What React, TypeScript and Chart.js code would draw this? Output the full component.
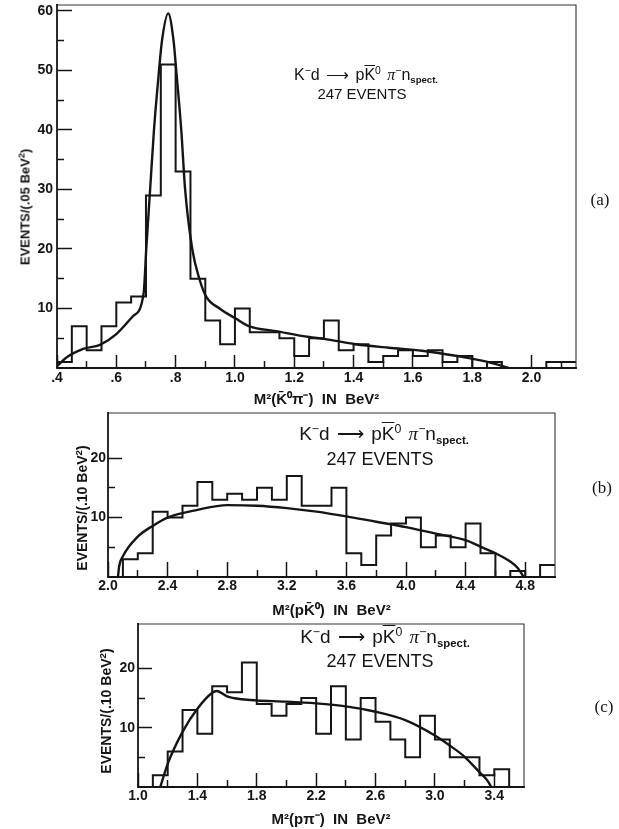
import React, { useEffect, useRef } from "react";
import { Chart, registerables } from "chart.js";

Chart.register(...registerables);

// ---------------- Panel (a): M^2(K0bar pi-) ----------------
const binLowA = 0.4;
const binWidthA = 0.05;
const countsA = [1, 7, 3, 7, 11, 12, 29, 51, 33, 15, 8, 4, 10, 6, 6, 5, 2, 5, 8, 3, 4, 1, 2, 3, 2, 3, 1, 2, 0, 1, 0, 0, 0, 1, 1];
const curveAX = [0.4, 0.433, 0.488, 0.545, 0.6, 0.656, 0.692, 0.701, 0.714, 0.727, 0.744, 0.754, 0.775, 0.793, 0.802, 0.819, 0.832, 0.856, 0.88, 0.903, 0.948, 1.0, 1.049, 1.138, 1.25, 1.3, 1.407, 1.519, 1.631, 1.744, 1.855, 1.923];
const curveAY = [0.3, 1.8, 3.2, 3.9, 5.7, 8.7, 12.5, 20, 30, 40, 50, 55, 59.6, 55, 50, 40, 30, 20, 15, 12, 10, 8.4, 7, 6.2, 5.2, 4.9, 4.0, 3.4, 2.9, 2.05, 1.0, 0];
const xTicksA = [0.4, 0.6, 0.8, 1.0, 1.2, 1.4, 1.6, 1.8, 2.0];
const xLabelsA = [".4", ".6", ".8", "1.0", "1.2", "1.4", "1.6", "1.8", "2.0"];
const xMinorA = [0.5, 0.7, 0.9, 1.1, 1.3, 1.5, 1.7, 1.9, 2.1];
const yTicksA = [10, 20, 30, 40, 50, 60];
const yLabelsA = ["10", "20", "30", "40", "50", "60"];
const yMinorA = [5, 15, 25, 35, 45, 55];

// ---------------- Panel (b): M^2(p K0bar) ----------------
const binLowB = 2.0;
const binWidthB = 0.1;
const countsB = [0, 3, 4, 11, 10, 12, 16, 13, 14, 13, 15, 13, 17, 12, 12, 15, 4, 2, 7, 9, 10, 5, 7, 5, 9, 4, 0, 1, 0, 2];
const curveBX = [2.067, 2.075, 2.1, 2.2, 2.3, 2.4, 2.6, 2.8, 3.0, 3.2, 3.4, 3.6, 3.8, 4.0, 4.2, 4.4, 4.5, 4.6, 4.7, 4.75, 4.79];
const curveBY = [0, 1.8, 3.5, 6.8, 8.6, 10, 11.3, 12.1, 12, 11.6, 11.0, 10.2, 9.3, 8.4, 7.3, 6.2, 5.1, 4.0, 2.6, 1.5, 0];
const xTicksB = [2.0, 2.4, 2.8, 3.2, 3.6, 4.0, 4.4, 4.8];
const xLabelsB = ["2.0", "2.4", "2.8", "3.2", "3.6", "4.0", "4.4", "4.8"];
const xMinorB = [2.2, 2.6, 3.0, 3.4, 3.8, 4.2, 4.6];
const yTicksB = [10, 20];
const yLabelsB = ["10", "20"];
const yMinorB = [5, 15];

// ---------------- Panel (c): M^2(p pi-) ----------------
const binLowC = 1.0;
const binWidthC = 0.1;
const countsC = [0, 2, 6, 13, 9, 17, 16, 21, 14, 12, 14, 15, 9, 17, 8, 15, 11, 8, 5, 12, 8, 5, 5, 2, 3, 0];
const curveCX = [1.15, 1.2, 1.3, 1.4, 1.5, 1.53, 1.6, 1.7, 1.8, 2.0, 2.2, 2.4, 2.6, 2.8, 3.0, 3.1, 3.2, 3.3, 3.35, 3.38];
const curveCY = [0, 3.9, 9.3, 13.2, 15.9, 16.2, 15.3, 14.8, 14.6, 14.4, 14.1, 13.6, 12.7, 11.3, 8.7, 7.0, 5.1, 2.5, 1.2, 0];
const xTicksC = [1.0, 1.4, 1.8, 2.2, 2.6, 3.0, 3.4];
const xLabelsC = ["1.0", "1.4", "1.8", "2.2", "2.6", "3.0", "3.4"];
const xMinorC = [1.2, 1.6, 2.0, 2.4, 2.8, 3.2];
const yTicksC = [10, 20];
const yLabelsC = ["10", "20"];
const yMinorC = [5, 15];

const W = 619;
const H = 829;
const SANS = "'Liberation Sans', Arial, Helvetica, sans-serif";
const SERIF = "'Liberation Serif', 'Times New Roman', serif";
const INK = "#151515";

type Panel = {
  plot: { l: number; r: number; t: number; b: number };
  xMin: number; xMax: number; yMax: number;
  binLow: number; binWidth: number; counts: number[];
  curveX: number[]; curveY: number[];
  xTicks: number[]; xLabels: string[]; xMinor: number[];
  yTicks: number[]; yLabels: string[]; yMinor: number[];
  xTitle: string;
  xTickLen: number; yTickLen: number;
  xLabelPad: number; yLabelPad: number;
  xTitleY: number;
};

const panels: Panel[] = [
  {
    plot: { l: 57, r: 576, t: 5, b: 368 },
    xMin: 0.4, xMax: 2.15, yMax: 61,
    binLow: binLowA, binWidth: binWidthA, counts: countsA,
    curveX: curveAX, curveY: curveAY,
    xTicks: xTicksA, xLabels: xLabelsA, xMinor: xMinorA,
    yTicks: yTicksA, yLabels: yLabelsA, yMinor: yMinorA,
    xTitle: "M²(K̄⁰π⁻)  IN  BeV²",
    xTickLen: 13, yTickLen: 15, xLabelPad: 15, yLabelPad: 19,
    xTitleY: 400,
  },
  {
    plot: { l: 108, r: 555, t: 413, b: 577 },
    xMin: 2.0, xMax: 5.0, yMax: 27.6,
    binLow: binLowB, binWidth: binWidthB, counts: countsB,
    curveX: curveBX, curveY: curveBY,
    xTicks: xTicksB, xLabels: xLabelsB, xMinor: xMinorB,
    yTicks: yTicksB, yLabels: yLabelsB, yMinor: yMinorB,
    xTitle: "M²(pK̄⁰)  IN  BeV²",
    xTickLen: 15, yTickLen: 14, xLabelPad: 16, yLabelPad: 16,
    xTitleY: 611,
  },
  {
    plot: { l: 138, r: 524, t: 624, b: 787 },
    xMin: 1.0, xMax: 3.6, yMax: 27.5,
    binLow: binLowC, binWidth: binWidthC, counts: countsC,
    curveX: curveCX, curveY: curveCY,
    xTicks: xTicksC, xLabels: xLabelsC, xMinor: xMinorC,
    yTicks: yTicksC, yLabels: yLabelsC, yMinor: yMinorC,
    xTitle: "M²(pπ⁻)  IN  BeV²",
    xTickLen: 14, yTickLen: 14, xLabelPad: 15, yLabelPad: 17,
    xTitleY: 820,
  },
];

function histPoints(low: number, w: number, counts: number[]) {
  const pts = counts.map((c, i) => ({ x: +(low + i * w).toFixed(4), y: c }));
  pts.push({ x: +(low + counts.length * w).toFixed(4), y: counts[counts.length - 1] });
  return pts;
}

// frame: heavier left/bottom axes, lighter top/right edges (as in the print)
const framePlugin = {
  id: "frame",
  afterDatasetsDraw(chart: any) {
    const { ctx, chartArea } = chart;
    const { left, top, right, bottom } = chartArea;
    ctx.save();
    ctx.lineCap = "square";
    ctx.strokeStyle = "#333";
    ctx.lineWidth = 1.1;
    ctx.beginPath();
    ctx.moveTo(left, top);
    ctx.lineTo(right, top);
    ctx.lineTo(right, bottom);
    ctx.stroke();
    ctx.strokeStyle = INK;
    ctx.lineWidth = 1.8;
    ctx.beginPath();
    ctx.moveTo(left, top);
    ctx.lineTo(left, bottom);
    ctx.lineTo(right, bottom);
    ctx.stroke();
    ctx.restore();
  },
};

function zeroPad(s: any) {
  s.paddingTop = 0;
  s.paddingBottom = 0;
  s.paddingLeft = 0;
  s.paddingRight = 0;
}

function makeConfig(p: Panel): any {
  const Hx = p.xTitleY - p.plot.b + 9;
  const tickFont = { family: SANS, size: 14, weight: "bold" as const };
  const labelOf = (vals: number[], labels: string[]) => (v: any) => {
    const i = vals.findIndex((t) => Math.abs(t - v) < 1e-6);
    return i >= 0 ? labels[i] : "";
  };
  return {
    type: "line",
    data: {
      datasets: [
        {
          label: "events",
          data: histPoints(p.binLow, p.binWidth, p.counts),
          stepped: "before",
          borderColor: INK,
          borderWidth: 2,
          pointRadius: 0,
          fill: false,
        },
        {
          label: "fit",
          data: p.curveX.map((x, i) => ({ x, y: p.curveY[i] })),
          borderColor: INK,
          borderWidth: 2.4,
          pointRadius: 0,
          fill: false,
          cubicInterpolationMode: "monotone",
        },
      ],
    },
    options: {
      animation: false,
      responsive: false,
      maintainAspectRatio: false,
      events: [],
      layout: { padding: { left: 0, top: p.plot.t, right: W - p.plot.r, bottom: H - p.plot.b - Hx } },
      plugins: { legend: { display: false }, tooltip: { enabled: false } },
      scales: {
        x: {
          type: "linear",
          position: "bottom",
          weight: 1,
          min: p.xMin,
          max: p.xMax,
          afterBuildTicks: (s: any) => { s.ticks = p.xTicks.map((v) => ({ value: v })); },
          afterFit: (s: any) => { s.height = Hx; zeroPad(s); },
          border: { display: false },
          grid: { display: true, drawOnChartArea: false, drawTicks: true, tickLength: -p.xTickLen, tickWidth: 1.5, tickColor: INK },
          ticks: { autoSkip: false, maxRotation: 0, minRotation: 0, padding: p.xLabelPad, color: INK, font: tickFont, callback: labelOf(p.xTicks, p.xLabels) },
          title: { display: true, text: p.xTitle, color: INK, font: { family: SANS, size: 15, weight: "bold" }, padding: { top: 0, bottom: 0 } },
        },
        xMinor: {
          type: "linear",
          position: "bottom",
          weight: 0,
          min: p.xMin,
          max: p.xMax,
          afterBuildTicks: (s: any) => { s.ticks = p.xMinor.map((v) => ({ value: v })); },
          afterFit: (s: any) => { s.height = 0; zeroPad(s); },
          border: { display: false },
          grid: { display: true, drawOnChartArea: false, drawTicks: true, tickLength: -7, tickWidth: 1.5, tickColor: INK },
          ticks: { display: false, autoSkip: false },
        },
        y: {
          type: "linear",
          position: "left",
          weight: 1,
          min: 0,
          max: p.yMax,
          afterBuildTicks: (s: any) => { s.ticks = p.yTicks.map((v) => ({ value: v })); },
          afterFit: (s: any) => { s.width = p.plot.l; zeroPad(s); },
          border: { display: false },
          grid: { display: true, drawOnChartArea: false, drawTicks: true, tickLength: -p.yTickLen, tickWidth: 1.5, tickColor: INK },
          ticks: { autoSkip: false, padding: p.yLabelPad, color: INK, font: tickFont, callback: labelOf(p.yTicks, p.yLabels) },
        },
        yMinor: {
          type: "linear",
          position: "left",
          weight: 0,
          min: 0,
          max: p.yMax,
          afterBuildTicks: (s: any) => { s.ticks = p.yMinor.map((v) => ({ value: v })); },
          afterFit: (s: any) => { s.width = 0; zeroPad(s); },
          border: { display: false },
          grid: { display: true, drawOnChartArea: false, drawTicks: true, tickLength: -7, tickWidth: 1.5, tickColor: INK },
          ticks: { display: false, autoSkip: false },
        },
      },
    },
    plugins: [framePlugin],
  };
}

const supStyle: React.CSSProperties = { fontSize: "0.65em", verticalAlign: "0.55em", lineHeight: 0 };

function Reaction({ cx, top, size }: { cx: number; top: number; size: number }) {
  return (
    <div style={{ position: "absolute", left: cx - 160, width: 320, top, textAlign: "center", fontFamily: SANS, fontSize: size, lineHeight: 1, whiteSpace: "nowrap", color: INK, wordSpacing: 2 }}>
      K<span style={supStyle}>−</span>d <span>⟶</span> p<span style={{ textDecoration: "overline" }}>K</span>
      <span style={supStyle}>0</span> <span style={{ fontFamily: SERIF, fontStyle: "italic" }}>π</span>
      <span style={supStyle}>−</span>n
      <span style={{ fontSize: "0.6em", fontWeight: "bold", verticalAlign: "-0.35em", lineHeight: 0 }}>spect.</span>
    </div>
  );
}

function Events({ cx, top, size }: { cx: number; top: number; size: number }) {
  return (
    <div style={{ position: "absolute", left: cx - 160, width: 320, top, textAlign: "center", fontFamily: SANS, fontSize: size, lineHeight: 1, whiteSpace: "nowrap", color: INK }}>
      247 EVENTS
    </div>
  );
}

function YTitle({ cx, cy, size, text }: { cx: number; cy: number; size: number; text: string }) {
  return (
    <div style={{ position: "absolute", left: cx, top: cy, transform: "translate(-50%, -50%) rotate(-90deg)", fontFamily: SANS, fontWeight: "bold", fontSize: size, lineHeight: 1, whiteSpace: "nowrap", color: INK }}>
      {text}
      <span style={{ fontSize: "0.7em", verticalAlign: "0.5em", lineHeight: 0 }}>2</span>)
    </div>
  );
}

function Tag({ cx, cy, text }: { cx: number; cy: number; text: string }) {
  return (
    <div style={{ position: "absolute", left: cx - 25, width: 50, top: cy - 10, textAlign: "center", fontFamily: SERIF, fontSize: 17, lineHeight: "20px", color: INK }}>
      {text}
    </div>
  );
}

export default function App() {
  const refs = [useRef<HTMLCanvasElement>(null), useRef<HTMLCanvasElement>(null), useRef<HTMLCanvasElement>(null)];
  useEffect(() => {
    const charts = panels.map((p, i) => new Chart(refs[i].current as HTMLCanvasElement, makeConfig(p)));
    return () => charts.forEach((c) => c.destroy());
  }, []);
  return (
    <div style={{ position: "absolute", left: 0, top: 0, width: W, height: H, overflow: "hidden", background: "#fff" }}>
      {refs.map((r, i) => (
        <canvas key={i} ref={r} width={W} height={H} style={{ position: "absolute", left: 0, top: 0, width: W, height: H }} />
      ))}
      <YTitle cx={25} cy={207} size={13} text="EVENTS/(.05 BeV" />
      <YTitle cx={82} cy={508} size={14} text="EVENTS/(.10 BeV" />
      <YTitle cx={106} cy={711} size={14} text="EVENTS/(.10 BeV" />
      <Reaction cx={366} top={67} size={16} />
      <Events cx={362} top={86} size={15} />
      <Reaction cx={384} top={424} size={19} />
      <Events cx={380} top={450} size={18} />
      <Reaction cx={385} top={627} size={19} />
      <Events cx={380} top={652} size={18} />
      <Tag cx={600} cy={200} text="(a)" />
      <Tag cx={602} cy={488} text="(b)" />
      <Tag cx={604} cy={707} text="(c)" />
    </div>
  );
}
